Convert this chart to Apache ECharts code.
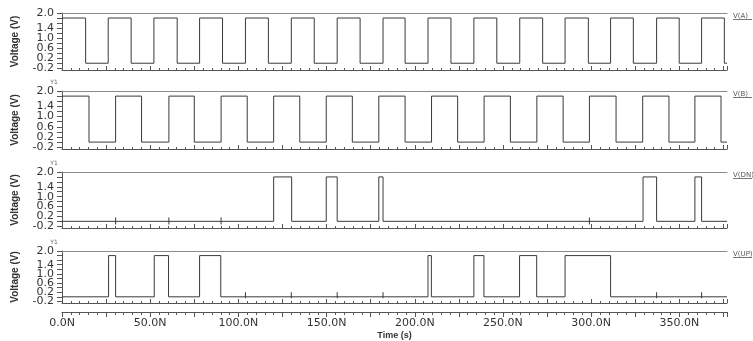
<!DOCTYPE html>
<html><head><meta charset="utf-8">
<script src="https://cdn.jsdelivr.net/npm/echarts@6/dist/echarts.min.js"></script>
<style>html,body{margin:0;padding:0;background:#fff}#c{width:753px;height:341px}</style>
</head><body><div id="c"></div>
<script>
// ---- data ----
const signalNames = ['V(A)', 'V(B)', 'V(DN)', 'V(UP)'];
const timeMin = 0, timeMax = 377;
const highLevel = 1.8, lowLevel = 0;

// V(A): transition times (ns) and the level after each transition
const aTimes = [0, 13.4, 26.2, 39.2, 52.1, 65.3, 78.0, 91.0, 104.0, 117.0, 130.0, 143.0, 156.0, 169.0, 182.0,
  194.5, 207.5, 220.5, 233.5, 246.5, 259.5, 272.5, 285.2, 298.4, 311.0, 323.9, 337.1, 349.9, 362.6, 375.5, 377];
const aLevels = [1.8, 0, 1.8, 0, 1.8, 0, 1.8, 0, 1.8, 0, 1.8, 0, 1.8, 0, 1.8, 0, 1.8, 0, 1.8, 0, 1.8, 0, 1.8, 0,
  1.8, 0, 1.8, 0, 1.8, 0, 0];

// V(B)
const bTimes = [0, 15.3, 30.4, 45.1, 60.6, 75.0, 90.2, 105.0, 120.0, 134.8, 149.8, 164.6, 179.6, 194.5, 209.5,
  224.3, 239.3, 254.2, 269.2, 284.1, 299.0, 314.1, 329.2, 344.1, 358.8, 373.6, 377];
const bLevels = [1.8, 0, 1.8, 0, 1.8, 0, 1.8, 0, 1.8, 0, 1.8, 0, 1.8, 0, 1.8, 0, 1.8, 0, 1.8, 0, 1.8, 0, 1.8, 0,
  1.8, 0, 0];

// V(DN) / V(UP): pulses [start, end] in ns
const dnPulses = [[120.0, 130.2], [149.8, 156.0], [179.6, 182.0], [329.4, 337.1], [358.8, 362.6]];
const upPulses = [[26.4, 30.4], [52.3, 60.4], [78.0, 90.0], [207.5, 209.4], [233.5, 239.2], [259.4, 269.1], [285.2, 311.0]];
// small switching glitches on the low level (ns) and their excursions (V)
const dnGlitchTimes = [30.4, 60.6, 90.2, 299.0];
const dnGlitchRange = [0.16, -0.13];
const upGlitchTimes = [104.0, 130.0, 156.0, 182.0, 337.1, 362.6];
const upGlitchRange = [0.2, -0.06];

// axes
const yTickValues = [-0.2, 0, 0.2, 0.4, 0.6, 0.8, 1.0, 1.2, 1.4, 1.6, 1.8, 2.0];
const yLabelValuesA = [-0.2, 0.6, 1.4];
const yLabelValuesB = [0.2, 1.0, 2.0];
const xLabelValues = [0, 50, 100, 150, 200, 250, 300, 350];

// ---- build polylines with vertical edges ----
function levelLine(times, levels) {
  const pts = [[times[0], levels[0]]];
  for (let i = 1; i < times.length; i++) {
    if (levels[i] !== levels[i - 1]) pts.push([times[i], levels[i - 1]]);
    pts.push([times[i], levels[i]]);
  }
  return pts;
}
function pulseLine(pulses) {
  const ev = [];
  pulses.forEach(p => { ev.push({ t: p[0], v: highLevel }); ev.push({ t: p[1], v: lowLevel }); });
  ev.sort((a, b) => a.t - b.t);
  let cur = lowLevel;
  const pts = [[timeMin, cur]];
  ev.forEach(e => { pts.push([e.t, cur], [e.t, e.v]); cur = e.v; });
  pts.push([timeMax, cur]);
  return pts;
}
function glitchLine(times, range) {
  const pts = [];
  times.forEach(t => { pts.push([t, range[0]], [t, range[1]], [t, '-']); });
  return pts;
}
const seriesData = [
  levelLine(aTimes, aLevels),
  levelLine(bTimes, bLevels),
  pulseLine(dnPulses),
  pulseLine(upPulses)
];
const glitchData = [[], [], glitchLine(dnGlitchTimes, dnGlitchRange), glitchLine(upGlitchTimes, upGlitchRange)];

const tops = [13, 91, 172, 251];
const heights = [57, 58, 56, 58];
const L = 62, R = 26;
const axisColor = '#555';
const textColor = '#333';
const lineColor = '#3a3a3a';

const grid = [], xAxis = [], yAxis = [], series = [], graphic = [];
const labelStyle = { color: textColor, fontSize: 11, fontFamily: 'DejaVu Sans', margin: 8, hideOverlap: false,
  formatter: v => v.toFixed(1) };
for (let i = 0; i < 4; i++) {
  grid.push({ left: L, right: R, top: tops[i], height: heights[i] });
  xAxis.push({
    gridIndex: i, type: 'value', min: timeMin, max: timeMax, interval: 25,
    axisLine: { show: true, onZero: false, lineStyle: { color: axisColor, width: 1 } },
    axisTick: { show: true, inside: true, length: 4, lineStyle: { color: axisColor } },
    minorTick: { show: true, splitNumber: 5, length: 2, lineStyle: { color: axisColor } },
    axisLabel: { show: false }, splitLine: { show: false }
  });
  yAxis.push({
    gridIndex: i, type: 'value', min: -0.27, max: 2.0,
    axisLine: { show: true, onZero: false, lineStyle: { color: axisColor, width: 1 } },
    axisTick: { show: true, length: 5, customValues: yTickValues, lineStyle: { color: axisColor } },
    axisLabel: Object.assign({ customValues: yLabelValuesA }, labelStyle),
    splitLine: { show: false },
    name: 'Voltage (V)', nameLocation: 'middle', nameGap: 42, nameRotate: 90,
    nameTextStyle: { fontSize: 10, fontWeight: 'bold', fontFamily: 'Liberation Sans', color: textColor }
  });
}
for (let i = 0; i < 4; i++) {
  yAxis.push({
    gridIndex: i, type: 'value', min: -0.27, max: 2.0, position: 'left',
    axisLine: { show: false }, axisTick: { show: false },
    axisLabel: Object.assign({ customValues: yLabelValuesB }, labelStyle),
    splitLine: { show: false }
  });
}
for (let i = 0; i < 4; i++) {
  series.push({
    name: signalNames[i], type: 'line', xAxisIndex: i, yAxisIndex: i,
    showSymbol: false, symbol: 'none', data: seriesData[i],
    lineStyle: { color: lineColor, width: 1 }, animation: false, silent: true
  });
  if (glitchData[i].length) {
    series.push({
      name: signalNames[i] + ' glitch', type: 'line', xAxisIndex: i, yAxisIndex: i,
      showSymbol: false, symbol: 'none', connectNulls: false, data: glitchData[i],
      lineStyle: { color: lineColor, width: 1 }, animation: false, silent: true
    });
  }
  graphic.push({ type: 'text', x: 733, y: tops[i] + 3,
    style: { text: signalNames[i], fill: '#555', font: '7px DejaVu Sans', align: 'left', verticalAlign: 'middle' } });
  graphic.push({ type: 'line', shape: { x1: 733, y1: tops[i] + 6.5, x2: 752, y2: tops[i] + 6.5 },
    style: { stroke: '#777', lineWidth: 1 } });
  if (i > 0) {
    graphic.push({ type: 'text', x: 54, y: tops[i] - 9,
      style: { text: 'Y1', fill: '#666', font: '6px DejaVu Sans', align: 'center', verticalAlign: 'middle' } });
  }
}
for (let i = 0; i < 4; i++) {
  xAxis.push({
    gridIndex: i, type: 'value', position: 'top', min: timeMin, max: timeMax,
    axisLine: { show: true, onZero: false, lineStyle: { color: '#8a8a8a', width: 1 } },
    axisTick: { show: false }, axisLabel: { show: false }, splitLine: { show: false }
  });
}
xAxis.push({
  gridIndex: 3, type: 'value', position: 'bottom', offset: 9, min: timeMin, max: timeMax, interval: 25,
  axisLine: { show: true, onZero: false, lineStyle: { color: axisColor, width: 1 } },
  axisTick: { show: true, inside: false, length: 5, lineStyle: { color: axisColor } },
  minorTick: { show: true, splitNumber: 5, length: 3, lineStyle: { color: axisColor } },
  axisLabel: { customValues: xLabelValues, formatter: v => v.toFixed(1) + 'N', color: textColor,
    fontSize: 11, fontFamily: 'DejaVu Sans', margin: 6, hideOverlap: false },
  splitLine: { show: false },
  name: 'Time (s)', nameLocation: 'middle', nameGap: 19,
  nameTextStyle: { fontSize: 9, fontWeight: 'bold', fontFamily: 'Liberation Sans', color: textColor }
});

const chart = echarts.init(document.getElementById('c'), null, { renderer: 'canvas' });
chart.setOption({ animation: false, backgroundColor: '#fff', grid, xAxis, yAxis, series, graphic });
</script>
</body></html>
